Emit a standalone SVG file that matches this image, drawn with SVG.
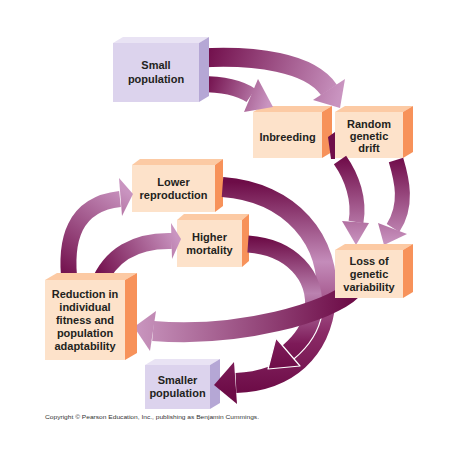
<svg xmlns="http://www.w3.org/2000/svg" width="450" height="458" viewBox="0 0 450 458">
<style>
.ofront{fill:#fde2ca}.otop{fill:#fccaa4}.oside{fill:#f7925a}
.pfront{fill:#dcd3ed}.ptop{fill:#e9e3f4}.pside{fill:#b5a7d5}
.lbl{font-family:"Liberation Sans",Arial,sans-serif;font-weight:bold;font-size:11px;fill:#231f20;text-anchor:middle}
.sh{fill:none;stroke-linecap:butt}
.copy{font-family:"Liberation Sans",Arial,sans-serif;font-size:6px;fill:#333}
</style>
<defs>
<linearGradient id="g1" gradientUnits="userSpaceOnUse" x1="205" y1="84" x2="268" y2="104"><stop offset="0" stop-color="#720f4c"/><stop offset="1" stop-color="#c994c0"/></linearGradient>
<linearGradient id="g2" gradientUnits="userSpaceOnUse" x1="205" y1="58" x2="338" y2="100"><stop offset="0" stop-color="#720f4c"/><stop offset="1" stop-color="#c994c0"/></linearGradient>
<linearGradient id="g3" gradientUnits="userSpaceOnUse" x1="0" y1="160" x2="0" y2="244"><stop offset="0" stop-color="#720f4c"/><stop offset="1" stop-color="#c994c0"/></linearGradient>
<linearGradient id="g5" gradientUnits="userSpaceOnUse" x1="352" y1="0" x2="135" y2="0"><stop offset="0" stop-color="#6d0c47"/><stop offset="1" stop-color="#c996bf"/></linearGradient>
<linearGradient id="g6" gradientUnits="userSpaceOnUse" x1="0" y1="182" x2="0" y2="392"><stop offset="0" stop-color="#6d0c47"/><stop offset="0.38" stop-color="#c48cba"/><stop offset="0.72" stop-color="#8a2a66"/><stop offset="1" stop-color="#6d0c47"/></linearGradient>
<linearGradient id="g7" gradientUnits="userSpaceOnUse" x1="0" y1="238" x2="0" y2="370"><stop offset="0" stop-color="#6d0c47"/><stop offset="0.42" stop-color="#bb82b0"/><stop offset="0.8" stop-color="#7d1a58"/><stop offset="1" stop-color="#6d0c47"/></linearGradient>
<linearGradient id="g8" gradientUnits="userSpaceOnUse" x1="70" y1="280" x2="130" y2="194"><stop offset="0" stop-color="#720f4c"/><stop offset="1" stop-color="#c994c0"/></linearGradient>
<linearGradient id="g9" gradientUnits="userSpaceOnUse" x1="100" y1="280" x2="178" y2="240"><stop offset="0" stop-color="#720f4c"/><stop offset="1" stop-color="#c994c0"/></linearGradient>
</defs>
<rect width="450" height="458" fill="#ffffff"/>

<g id="node-lower-reproduction">
<polygon class="otop" points="132,165 140,159 223,159 215,165"/>
<polygon class="oside" points="215,165 223,159 223,206 215,212"/>
<rect class="ofront" x="132" y="165" width="83" height="47"/>
<text class="lbl" x="173.5" y="186">Lower</text>
<text class="lbl" x="173.5" y="199">reproduction</text>
</g>
<g id="node-higher-mortality">
<polygon class="otop" points="177,220 184,214 249,214 242,220"/>
<polygon class="oside" points="242,220 249,214 249,261 242,267"/>
<rect class="ofront" x="177" y="220" width="65" height="47"/>
<text class="lbl" x="209.5" y="241">Higher</text>
<text class="lbl" x="209.5" y="254">mortality</text>
</g>
<g id="node-smaller-population">
<polygon class="ptop" points="145,365 155,359 220,359 210,365"/>
<polygon class="pside" points="210,365 220,359 220,403 210,409"/>
<rect class="pfront" x="145" y="365" width="65" height="44"/>
<text class="lbl" x="177.5" y="384">Smaller</text>
<text class="lbl" x="177.5" y="397">population</text>
</g>
<g id="node-inbreeding">
<polygon class="otop" points="253,112 263,106 332,106 322,112"/>
<polygon class="oside" points="322,112 332,106 332,152 322,158"/>
<rect class="ofront" x="253" y="112" width="69" height="46"/>
<text class="lbl" x="287.5" y="141">Inbreeding</text>
</g>
<g id="node-random-genetic-drift">
<polygon class="otop" points="335,112 345,106 413,106 403,112"/>
<polygon class="oside" points="403,112 413,106 413,152 403,158"/>
<rect class="ofront" x="335" y="112" width="68" height="46"/>
<text class="lbl" x="369" y="128">Random</text>
<text class="lbl" x="369" y="140">genetic</text>
<text class="lbl" x="369" y="152">drift</text>
</g>

<g id="connectors">
<path class="sh" d="M200,84 C222,84 240,88 251,95.5" stroke="url(#g1)" stroke-width="16"/>
<polygon points="258,79 273,107 244,112" fill="url(#g1)"/>
<path class="sh" d="M200,58 C255,55 310,62 329,90" stroke="url(#g2)" stroke-width="19"/>
<polygon points="345,79 340,108 313,100" fill="url(#g2)"/>
<polygon points="328,137 335,132 335,159 331,159" fill="#6f0e4a"/>
<path class="sh" d="M340,160 C352,177 360,200 356,222" stroke="url(#g3)" stroke-width="15"/>
<polygon points="342,221 369,223 356,245" fill="url(#g3)"/>
<path class="sh" d="M396,160 C402,180 408,205 393,228" stroke="url(#g3)" stroke-width="15"/>
<polygon points="378,223 407,234 384,245" fill="url(#g3)"/>
<path class="sh" d="M222.5,187 C290,192 332,240 326,300 C321,352 287,381 236,383" stroke="url(#g6)" stroke-width="20"/>
<polygon points="234,362 214,385 237,404" fill="url(#g6)"/>
<path class="sh" d="M248,244 C290,247 318,275 313,312" stroke="url(#g7)" stroke-width="17"/>
<path class="sh" d="M313,312 C310,330 300,342 288,352" stroke="#ffffff" stroke-width="19.5"/>
<path class="sh" d="M313,312 C310,330 300,342 288,352" stroke="url(#g7)" stroke-width="17"/>
<polygon points="276,338 300,366 268,369" fill="url(#g7)" stroke="#ffffff" stroke-width="1.2" stroke-linejoin="round"/>
<path class="sh" d="M352,290 C330,312 240,338 153,331" stroke="url(#g5)" stroke-width="20"/>
<polygon points="156,311 134,327 150,351" fill="url(#g5)"/>
<path class="sh" d="M70,285 C64,240 74,204 120,199" stroke="url(#g8)" stroke-width="16"/>
<polygon points="119,178 133,194 122,216" fill="url(#g8)"/>
<path class="sh" d="M98,285 C110,255 135,240 172,241" stroke="url(#g9)" stroke-width="16"/>
<polygon points="171,223 181,239 172,259" fill="url(#g9)"/>
</g>

<g id="node-small-population">
<polygon class="ptop" points="113,43 123,37 209,37 199,43"/>
<polygon class="pside" points="199,43 209,37 209,96 199,102"/>
<rect class="pfront" x="113" y="43" width="86" height="59"/>
<text class="lbl" x="156" y="69">Small</text>
<text class="lbl" x="156" y="83">population</text>
</g>
<g id="node-loss-of-genetic-variability">
<polygon class="otop" points="335,250 345,244 413,244 403,250"/>
<polygon class="oside" points="403,250 413,244 413,292 403,298"/>
<rect class="ofront" x="335" y="250" width="68" height="48"/>
<text class="lbl" x="369" y="265">Loss of</text>
<text class="lbl" x="369" y="278">genetic</text>
<text class="lbl" x="369" y="291">variability</text>
</g>
<g id="node-reduction">
<polygon class="otop" points="45,280 57,273 137,273 125,280"/>
<polygon class="oside" points="125,280 137,273 137,353 125,360"/>
<rect class="ofront" x="45" y="280" width="80" height="80"/>
<text class="lbl" x="85" y="298">Reduction in</text>
<text class="lbl" x="85" y="311">individual</text>
<text class="lbl" x="85" y="324">fitness and</text>
<text class="lbl" x="85" y="337">population</text>
<text class="lbl" x="85" y="350">adaptability</text>
</g>

<text class="copy" x="45" y="419" textLength="214" lengthAdjust="spacingAndGlyphs">Copyright © Pearson Education, Inc., publishing as Benjamin Cummings.</text>
</svg>
